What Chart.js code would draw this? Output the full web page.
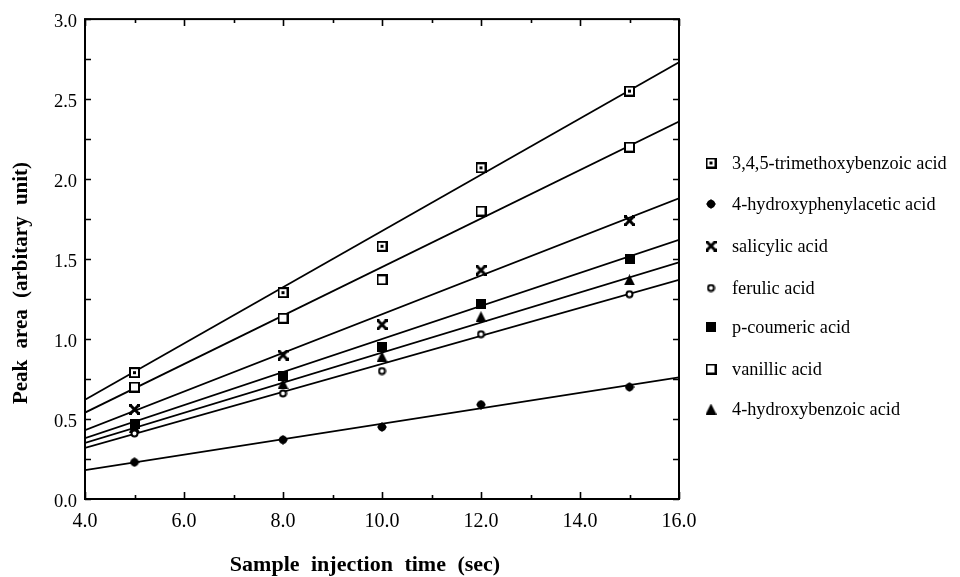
<!DOCTYPE html>
<html>
<head>
<meta charset="utf-8">
<script src="https://cdn.jsdelivr.net/npm/chart.js@4.4.1/dist/chart.umd.min.js"></script>
<style>
  html, body { margin: 0; padding: 0; background: #fff; }
  #wrap { width: 960px; height: 577px; position: relative; }
</style>
</head>
<body>
<div id="wrap"><canvas id="c" width="960" height="577"></canvas></div>
<script>
// ---- data ----
const injectionTimes = [5, 8, 10, 12, 15];
const trimethoxybenzoic   = [0.79, 1.29, 1.58, 2.07, 2.55];
const hydroxyphenylacetic = [0.23, 0.37, 0.45, 0.59, 0.70];
const salicylic           = [0.56, 0.90, 1.09, 1.43, 1.74];
const ferulic             = [0.41, 0.66, 0.80, 1.03, 1.28];
const pCoumeric           = [0.47, 0.77, 0.95, 1.22, 1.50];
const vanillic            = [0.70, 1.13, 1.37, 1.80, 2.20];
const hydroxybenzoic      = [0.45, 0.72, 0.89, 1.14, 1.37];

// regression lines: value at x = 4 and at x = 16
const fitRange = [4, 16];
const trimethoxybenzoicFit   = [0.62, 2.73];
const hydroxyphenylaceticFit = [0.18, 0.76];
const salicylicFit           = [0.43, 1.88];
const ferulicFit             = [0.32, 1.37];
const pCoumericFit           = [0.38, 1.62];
const vanillicFit            = [0.54, 2.36];
const hydroxybenzoicFit      = [0.35, 1.48];

const seriesNames = [
  '3,4,5-trimethoxybenzoic acid',
  '4-hydroxyphenylacetic acid',
  'salicylic acid',
  'ferulic acid',
  'p-coumeric acid',
  'vanillic acid',
  '4-hydroxybenzoic acid'
];
const xTickLabels = ['4.0', '6.0', '8.0', '10.0', '12.0', '14.0', '16.0'];
const yTickLabels = ['0.0', '0.5', '1.0', '1.5', '2.0', '2.5', '3.0'];

// ---- marker images ----
function mk(size, draw) {
  const c = document.createElement('canvas');
  c.width = size; c.height = size;
  const g = c.getContext('2d');
  g.fillStyle = '#000'; g.strokeStyle = '#000';
  draw(g, size);
  return c;
}
const mSquareDot = mk(11, (g, s) => {
  g.fillStyle = '#fff'; g.fillRect(0, 0, s, s);
  g.lineWidth = 2; g.strokeRect(1, 1, s - 2, s - 2);
  g.fillStyle = '#000'; g.fillRect(4, 4, 3, 3);
});
const mSquareOpen = mk(11, (g, s) => {
  g.fillStyle = '#fff'; g.fillRect(0, 0, s, s);
  g.lineWidth = 2; g.strokeRect(1, 1, s - 2, s - 2);
});
const mSquareFill = mk(10, (g, s) => { g.fillRect(0, 0, s, s); });
const mDiamondFill = mk(10, (g, s) => {
  g.beginPath(); g.moveTo(5, 0); g.lineTo(10, 5); g.lineTo(5, 10); g.lineTo(0, 5); g.closePath(); g.fill();
  g.beginPath(); g.arc(5, 5, 4, 0, Math.PI * 2); g.fill();
});
const mRingSmall = mk(9, (g, s) => {
  g.fillStyle = '#fff'; g.beginPath(); g.arc(4.5, 4.5, 3.5, 0, Math.PI * 2); g.fill();
  g.lineWidth = 2; g.beginPath(); g.arc(4.5, 4.5, 3, 0, Math.PI * 2); g.stroke();
});
const mTriangle = mk(11, (g, s) => {
  g.beginPath(); g.moveTo(5.5, 0); g.lineTo(11, 11); g.lineTo(0, 11); g.closePath(); g.fill();
});
const mCross = mk(11, (g, s) => {
  g.lineWidth = 3; g.lineCap = 'butt';
  g.beginPath(); g.moveTo(1, 1); g.lineTo(10, 10); g.moveTo(10, 1); g.lineTo(1, 10); g.stroke();
  g.fillRect(0, 0, 3, 3); g.fillRect(8, 0, 3, 3); g.fillRect(0, 8, 3, 3); g.fillRect(8, 8, 3, 3);
});

const seriesValues = [trimethoxybenzoic, hydroxyphenylacetic, salicylic, ferulic, pCoumeric, vanillic, hydroxybenzoic];
const seriesFits = [trimethoxybenzoicFit, hydroxyphenylaceticFit, salicylicFit, ferulicFit, pCoumericFit, vanillicFit, hydroxybenzoicFit];
const seriesMarkers = [mSquareDot, mDiamondFill, mCross, mRingSmall, mSquareFill, mSquareOpen, mTriangle];

const datasets = [];
seriesNames.forEach((name, i) => {
  datasets.push({
    label: name + ' (fit)',
    type: 'line',
    data: fitRange.map((x, k) => ({ x: x, y: seriesFits[i][k] })),
    borderColor: '#000', borderWidth: 1.8, pointRadius: 0, fill: false, order: 2
  });
});
seriesNames.forEach((name, i) => {
  datasets.push({
    label: name,
    type: 'scatter',
    data: injectionTimes.map((x, k) => ({ x: x, y: seriesValues[i][k] })),
    pointStyle: seriesMarkers[i], pointRadius: 5, showLine: false, order: 1
  });
});

const FONT = '"Liberation Serif", "Times New Roman", serif';

const decor = {
  id: 'decor',
  afterDraw(chart) {
    const ctx = chart.ctx, a = chart.chartArea;
    const xs = chart.scales.x, ys = chart.scales.y;
    ctx.save();
    ctx.strokeStyle = '#000';
    // frame
    ctx.lineWidth = 2;
    ctx.strokeRect(a.left, a.top, a.right - a.left, a.bottom - a.top);
    // x ticks (inward, bottom & top)
    ctx.lineWidth = 1.6;
    for (let v = 4; v <= 16; v += 1) {
      const px = Math.round(xs.getPixelForValue(v)) + 0.5;
      const len = (v % 2 === 0) ? 7 : 4;
      ctx.beginPath();
      ctx.moveTo(px, a.bottom); ctx.lineTo(px, a.bottom - len);
      ctx.moveTo(px, a.top); ctx.lineTo(px, a.top + len);
      ctx.stroke();
    }
    // y ticks (inward, left & right)
    for (let v = 0; v <= 3.0001; v += 0.25) {
      const py = Math.round(ys.getPixelForValue(v)) + 0.5;
      ctx.beginPath();
      ctx.moveTo(a.left, py); ctx.lineTo(a.left + 6, py);
      ctx.moveTo(a.right, py); ctx.lineTo(a.right - 6, py);
      ctx.stroke();
    }
    // axis titles
    ctx.fillStyle = '#000';
    ctx.font = 'bold 22px ' + FONT;
    ctx.textAlign = 'center'; ctx.textBaseline = 'middle';
    if ('wordSpacing' in ctx) ctx.wordSpacing = '6px';
    ctx.fillText('Sample injection time (sec)', 365, 565);
    ctx.font = 'bold 21px ' + FONT;
    ctx.save();
    ctx.translate(22, 283);
    ctx.rotate(-Math.PI / 2);
    ctx.fillText('Peak area (arbitary unit)', 0, 0);
    ctx.restore();
    if ('wordSpacing' in ctx) ctx.wordSpacing = '0px';
    // legend
    const legY = [163, 204, 246, 288, 327, 369, 409];
    ctx.font = '18.3px ' + FONT;
    ctx.textAlign = 'left';
    seriesNames.forEach((name, i) => {
      const m = seriesMarkers[i];
      ctx.drawImage(m, 711 - m.width / 2, legY[i] - m.height / 2);
      ctx.fillText(name, 732, legY[i] + 1);
    });
    ctx.restore();
  }
};

new Chart(document.getElementById('c'), {
  type: 'scatter',
  data: { datasets: datasets },
  plugins: [decor],
  options: {
    responsive: false,
    animation: false,
    layout: { padding: { top: 17, right: 281, left: 0, bottom: 0 } },
    plugins: { legend: { display: false }, tooltip: { enabled: false } },
    scales: {
      x: {
        type: 'linear', min: 4, max: 16,
        grid: { display: false, drawTicks: false },
        border: { display: false },
        ticks: {
          stepSize: 2, padding: 11, color: '#000',
          font: { family: FONT, size: 20 },
          callback: (v) => xTickLabels[Math.round((v - 4) / 2)]
        },
        afterFit: (s) => { s.height = 78; }
      },
      y: {
        type: 'linear', min: 0, max: 3,
        grid: { display: false, drawTicks: false },
        border: { display: false },
        ticks: {
          stepSize: 0.5, padding: 8, color: '#000', labelOffset: 3,
          font: { family: FONT, size: 18.5 },
          callback: (v) => yTickLabels[Math.round(v * 2)]
        },
        afterFit: (s) => { s.width = 85; }
      }
    }
  }
});
</script>
</body>
</html>
